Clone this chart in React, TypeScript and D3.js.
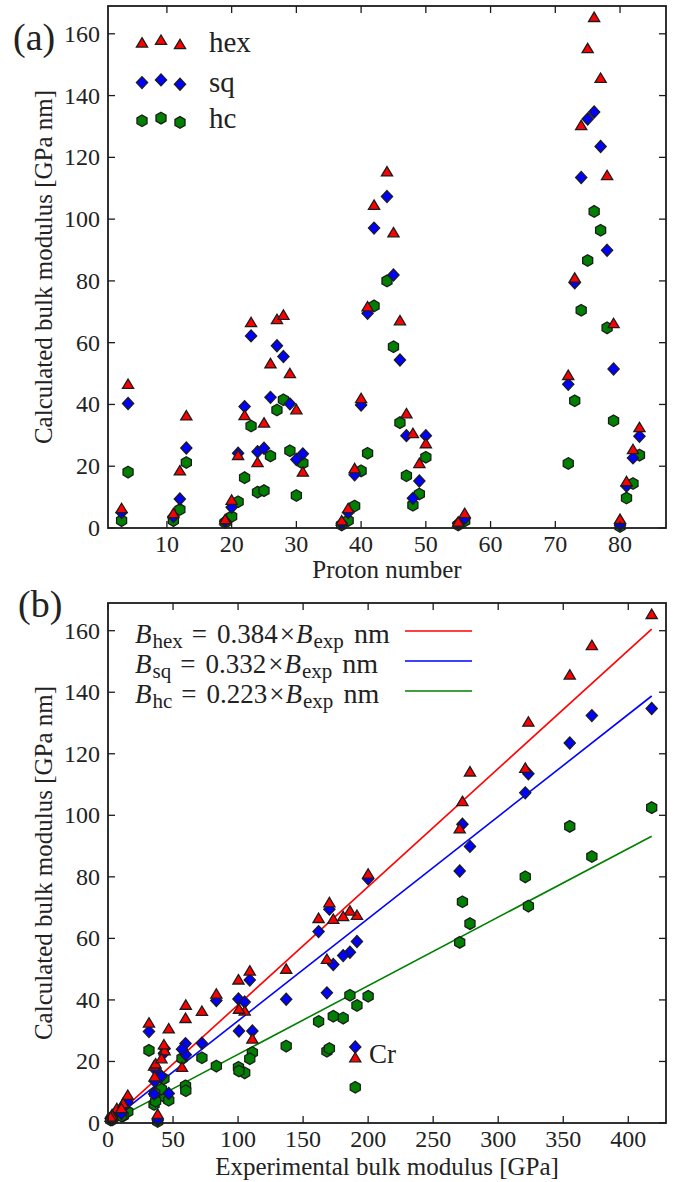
import React from "react";
import * as d3 from "d3";

// ---------------- data ----------------
const elements = ["Li","Be","Na","Mg","Al","K","Ca","Sc","Ti","V","Cr","Mn","Fe","Co","Ni","Cu","Zn","Ga","Rb","Sr","Y","Zr","Nb","Mo","Ru","Rh","Pd","Ag","Cd","In","Sn","Cs","Ba","Hf","Ta","W","Re","Os","Ir","Pt","Au","Hg","Tl","Pb","Bi"];
const protonNumber = [3,4,11,12,13,19,20,21,22,23,24,25,26,27,28,29,30,31,37,38,39,40,41,42,44,45,46,47,48,49,50,55,56,72,73,74,75,76,77,78,79,80,81,82,83];
const expBulk = [11.6,100.3,6.8,35.4,72.2,3.2,15.2,43.5,105.1,161.9,190.1,59.6,168.3,191.4,186,137,59.8,56.9,3.1,11.6,36.6,83.3,170.2,272.5,320.8,270.4,180.8,100.7,46.7,41.1,111,2.0,10.3,109,200,323.2,372,418,355,278.3,173.2,38.2,35.9,43.0,31.5];
const hexB = [6.4,46.6,4.8,18.6,36.4,2.8,9.1,23.6,36.5,66.6,21.3,34.1,53.3,67.6,69.0,50.1,38.4,18.2,2.4,6.4,19.3,42.0,71.7,104.6,115.4,95.7,67.2,37.1,30.7,21.0,27.4,2.0,4.8,49.5,81.0,130.4,155.3,165.4,145.7,114.2,66.3,2.9,15.1,25.5,32.6];
const sqB = [5.0,40.3,3.7,9.4,25.9,2.2,6.7,24.2,39.3,62.2,24.7,25.8,42.3,59.0,55.5,40.2,22.2,24.0,1.5,5.0,17.2,39.8,69.5,97.1,107.3,81.9,54.4,29.9,9.6,15.2,29.9,1.5,3.1,46.5,79.4,113.5,132.4,134.7,123.5,89.9,51.5,1.0,13.6,22.7,29.7];
const hcB = [2.4,18.1,2.4,6.0,21.2,1.8,3.7,8.5,16.3,33.0,11.6,12.1,23.3,38.2,41.5,25.0,10.5,21.0,1.0,2.4,7.1,18.5,24.2,71.9,80.0,58.7,34.1,16.9,7.4,11.0,22.9,1.0,2.3,20.9,41.2,70.5,86.6,102.5,96.4,64.8,34.7,0.5,9.7,14.4,23.6];

const seriesNames = ["hex", "sq", "hc"];
const seriesColors = ["#ff0000", "#0000ff", "#008000"];
const fitSlopes = [0.384, 0.332, 0.223];
const fitSlopeLabels = ["0.384", "0.332", "0.223"];

const xTicksA = [10, 20, 30, 40, 50, 60, 70, 80];
const yTicks = [0, 20, 40, 60, 80, 100, 120, 140, 160];
const xTicksB = [0, 50, 100, 150, 200, 250, 300, 350, 400];

// ---------------- layout ----------------
const W = 673, H = 1182;
const PA = { left: 108, right: 666, top: 6, bottom: 528 };
const PB = { left: 108, right: 666, top: 603, bottom: 1123 };
const FONT = '"Liberation Serif", "DejaVu Serif", "Times New Roman", serif';
const INK = "#222";
const EDGE = "#1c1c1c";
const T = { fontFamily: FONT };

function markerPath(kind: number, cx: number, cy: number): string {
  if (kind === 0) {
    return `M${cx},${cy - 5}L${cx + 5.6},${cy + 4.4}L${cx - 5.6},${cy + 4.4}Z`;
  }
  if (kind === 1) {
    return `M${cx},${cy - 6}L${cx + 5.6},${cy}L${cx},${cy + 6}L${cx - 5.6},${cy}Z`;
  }
  const r = 5.8;
  const pts = d3.range(6).map((i) => {
    const a = (-90 + i * 60) * Math.PI / 180;
    return [cx + r * Math.cos(a), cy + r * Math.sin(a)];
  });
  return "M" + pts.map((p) => p.join(",")).join("L") + "Z";
}

function Frame({ P, xs, ys, xTicks }: any) {
  const tl = 7;
  return (
    <g>
      {xTicks.map((t: number) => (
        <g key={"xt" + t}>
          <line x1={xs(t)} x2={xs(t)} y1={P.bottom} y2={P.bottom - tl} stroke={EDGE} strokeWidth={1.3} />
          <line x1={xs(t)} x2={xs(t)} y1={P.top} y2={P.top + tl} stroke={EDGE} strokeWidth={1.3} />
        </g>
      ))}
      {yTicks.map((t: number) => (
        <g key={"yt" + t}>
          <line x1={P.left} x2={P.left + tl} y1={ys(t)} y2={ys(t)} stroke={EDGE} strokeWidth={1.3} />
          <line x1={P.right} x2={P.right - tl} y1={ys(t)} y2={ys(t)} stroke={EDGE} strokeWidth={1.3} />
        </g>
      ))}
      <rect x={P.left} y={P.top} width={P.right - P.left} height={P.bottom - P.top} fill="none" stroke={EDGE} strokeWidth={1.8} />
      {xTicks.map((t: number) => (
        <text key={"xl" + t} x={xs(t)} y={P.bottom + 24} fontSize={24} textAnchor="middle" fill={INK} style={T}>{t}</text>
      ))}
      {yTicks.map((t: number) => (
        <text key={"yl" + t} x={P.left - 8} y={ys(t) + 8} fontSize={24} textAnchor="end" fill={INK} style={T}>{t}</text>
      ))}
    </g>
  );
}

export default function App() {
  const xA = d3.scaleLinear().domain([0.9, 87.1]).range([PA.left, PA.right]);
  const yA = d3.scaleLinear().domain([0, 169]).range([PA.bottom, PA.top]);
  const xB = d3.scaleLinear().domain([0, 429]).range([PB.left, PB.right]);
  const yB = d3.scaleLinear().domain([0, 169]).range([PB.bottom, PB.top]);

  const series = [hexB, sqB, hcB];
  const drawOrder = [2, 1, 0];
  const expMin = d3.min(expBulk) as number;
  const expMax = d3.max(expBulk) as number;
  const fitLine = d3.line<number[]>().x((d) => xB(d[0])).y((d) => yB(d[1]));

  // legend (a) marker layout
  const legAx = [142, 161, 180];
  const legAdy = [0.4, -2.3, 2.0];
  const legAy = [42.3, 82.2, 120.4];
  const legAtextY = [52, 92, 128];

  const eqY = [643, 673, 703];

  return (
    <svg width={W} height={H} style={{ position: "absolute", left: 0, top: 0, background: "#fff" }}>
      <rect x={0} y={0} width={W} height={H} fill="#fff" />

      {/* ---------- panel (a) ---------- */}
      <text x={13} y={50} fontSize={38} fill={INK} style={T}>(a)</text>
      <g>
        {drawOrder.map((s) => (
          <g key={"a" + s}>
            {series[s].map((v, i) => (
              <path key={i} d={markerPath(s, xA(protonNumber[i]), yA(v))} fill={seriesColors[s]} stroke={EDGE} strokeWidth={1.3} />
            ))}
          </g>
        ))}
      </g>
      <Frame P={PA} xs={xA} ys={yA} xTicks={xTicksA} />
      {seriesNames.map((n, s) => (
        <g key={"la" + s}>
          {legAx.map((lx, k) => (
            <path key={k} d={markerPath(s, lx, legAy[s] + legAdy[k])} fill={seriesColors[s]} stroke={EDGE} strokeWidth={1.3} />
          ))}
          <text x={209} y={legAtextY[s]} fontSize={29} fill={INK} style={T}>{n}</text>
        </g>
      ))}
      <text x={(PA.left + PA.right) / 2} y={578} fontSize={25} textAnchor="middle" fill={INK} style={T}>Proton number</text>
      <text transform={`translate(52,${(PA.top + PA.bottom) / 2}) rotate(-90)`} fontSize={25} textAnchor="middle" fill={INK} style={T}>Calculated bulk modulus [GPa nm]</text>

      {/* ---------- panel (b) ---------- */}
      <text x={18} y={617} fontSize={38} fill={INK} style={T}>(b)</text>
      {fitSlopes.map((k, s) => (
        <path key={"fit" + s} d={fitLine([[expMin, k * expMin], [expMax, k * expMax]]) as string} stroke={seriesColors[s]} strokeWidth={1.6} fill="none" />
      ))}
      <g>
        {drawOrder.map((s) => (
          <g key={"b" + s}>
            {series[s].map((v, i) => (
              <path key={i} d={markerPath(s, xB(expBulk[i]), yB(v))} fill={seriesColors[s]} stroke={EDGE} strokeWidth={1.3} />
            ))}
          </g>
        ))}
      </g>
      <Frame P={PB} xs={xB} ys={yB} xTicks={xTicksB} />
      <text x={369} y={1063} fontSize={27} fill={INK} style={T}>Cr</text>
      {seriesNames.map((n, s) => (
        <g key={"eq" + s}>
          <text x={135} y={eqY[s]} fontSize={27} fill={INK} style={T}>
            <tspan fontStyle="italic">B</tspan>
            <tspan fontSize={21} dx={1} dy={5}>{n}</tspan>
            <tspan dx={9} dy={-5}>=</tspan>
            <tspan dx={10}>{fitSlopeLabels[s]}</tspan>
            <tspan dx={2}>×</tspan>
            <tspan dx={1} fontStyle="italic">B</tspan>
            <tspan fontSize={21} dx={1} dy={5}>exp</tspan>
            <tspan dx={10} dy={-5} fontSize={28}>nm</tspan>
          </text>
          <line x1={405} x2={472} y1={eqY[s] - 12} y2={eqY[s] - 12} stroke={seriesColors[s]} strokeWidth={1.6} />
        </g>
      ))}
      <text x={(PB.left + PB.right) / 2} y={1175} fontSize={25} textAnchor="middle" fill={INK} style={T}>Experimental bulk modulus [GPa]</text>
      <text transform={`translate(52,${(PB.top + PB.bottom) / 2}) rotate(-90)`} fontSize={25} textAnchor="middle" fill={INK} style={T}>Calculated bulk modulus [GPa nm]</text>
    </svg>
  );
}
